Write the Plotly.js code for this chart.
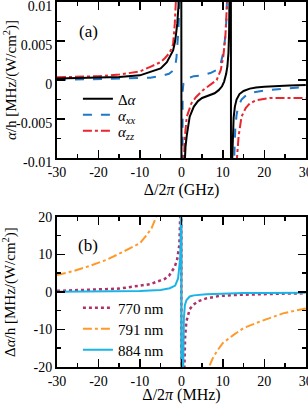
<!DOCTYPE html>
<html>
<head>
<meta charset="utf-8">
<script src="https://cdn.plot.ly/plotly-3.0.1.min.js"></script>
<style>html,body{margin:0;padding:0;background:#fff;}#chart{width:308px;height:404px;}</style>
</head>
<body>
<div id="chart"></div>
<script>
// ---------- Panel (a): detuning in GHz ----------
const aDeltaAlphaX = [-30,-25,-20,-15,-10,-7.5,-5,-3.5,-2.5,-2,-1.5,-1,-0.7,-0.5,-0.3,-0.1,0.1,0.5,0.8,1.0,1.3,1.6,2.0,3,4,5,6,7,8,9,9.8,10.3,10.8,11.1,11.35,11.5,11.65,11.8,11.9,12.0,12.1,12.2,12.4,12.6,12.9,13.3,14,15,16.5,18,20,23,26,30];
const aDeltaAlphaY = [0.0002,0.00025,0.0003,0.0004,0.0006,0.001,0.0015,0.0023,0.0032,0.0038,0.005,0.0072,0.0095,0.013,0.02,0.06,-0.06,-0.014,-0.0102,-0.0085,-0.0071,-0.006,-0.0047,-0.0034,-0.0027,-0.0023,-0.0021,-0.0019,-0.0017,-0.0013,-0.0008,-0.0002,0.0008,0.0018,0.0035,0.006,0.0095,0.02,0.06,-0.06,-0.02,-0.011,-0.0065,-0.0048,-0.0034,-0.0025,-0.0018,-0.0014,-0.0011,-0.00095,-0.00085,-0.00075,-0.0007,-0.00065];

const aAlphaXXX = [-30,-25,-20,-15,-10,-7.5,-5,-3,-2,-1.5,-1.2,-0.9,-0.7,-0.5,-0.3,-0.1,null,0.1,0.2,0.3,0.5,1.0,2,3,5,7,8.5,9.5,10.1,10.5,10.9,11.2,11.5,null,12.6,12.8,13.0,13.3,13.7,14.5,15.7,17,20.5,25,30];
const aAlphaXXY = [0.0,0.00005,0.0001,0.00015,0.0002,0.0003,0.0005,0.0008,0.0012,0.0018,0.0028,0.0045,0.0065,0.01,0.017,0.05,null,-0.05,-0.004,-0.0015,-0.0004,0.0001,0.0003,0.0005,0.0006,0.0009,0.0013,0.0022,0.0035,0.0052,0.008,0.012,0.025,null,-0.012,-0.0085,-0.0062,-0.0045,-0.0034,-0.0025,-0.0019,-0.0016,-0.0013,-0.0011,-0.0009];

const aAlphaZZX = [-30,-25,-20,-15,-10,-7.5,-5,-4,-3,-2.5,-2,-1.6,-1.3,-1.0,-0.7,-0.4,null,0.2,0.5,0.8,1.3,2.4,3.5,5.2,7,8.5,9.5,10.1,10.6,10.9,11.1,11.3,null,13.0,13.4,13.8,14.5,15.5,16.5,18,21.3,25,30];
const aAlphaZZY = [0.00035,0.0004,0.0005,0.0007,0.0011,0.0017,0.0023,0.0028,0.0034,0.0039,0.0046,0.0072,0.009,0.012,0.017,0.03,null,-0.03,-0.012,-0.0075,-0.0047,-0.003,-0.0022,-0.0013,-0.0006,0.0,0.0013,0.003,0.0055,0.0077,0.011,0.02,null,-0.02,-0.01,-0.0072,-0.0047,-0.0036,-0.003,-0.0026,-0.0023,-0.0023,-0.0023];

const aXTickVals = [-30,-20,-10,0,10,20,30];
const aXTickText = ['-30','-20','-10','0','10','20','30'];
const aYTickVals = [-0.01,-0.005,0,0.005,0.01];
const aYTickText = ['-0.01','-0.005','0','0.005','0.01'];
const aYMinor = [-0.0075,-0.0025,0.0025,0.0075];

// ---------- Panel (b): detuning in MHz ----------
const b770X = [-30,-25,-20,-15,-10,-7.5,-5,-4,-3,-2,-1.6,-1,-0.7,-0.5,-0.3,-0.15,-0.05,0.05,0.3,0.5,0.7,0.9,1.2,1.6,2,2.8,4,6,9,12.5,18,24,30];
const b770Y = [0.3,0.45,0.6,0.9,1.7,2.1,3.1,3.5,4.3,5.8,6.7,8.8,10.8,12.5,19.6,40,150,-150,-40,-27,-20,-12,-7.9,-5.8,-4.6,-3.5,-2.5,-1.7,-1.1,-0.8,-0.55,-0.45,-0.35];

const b791X = [-30,-26,-22,-18,-15,-12,-10,-8.5,-7.2,-6.2,-5,-3.5,-2,-1,-0.3,0.3,1,2,3.5,5,6.5,7.5,8.5,10,12.5,15,18.9,21.5,24.5,27,30];
const b791Y = [4.5,5.6,7.0,8.6,10.2,11.8,13,15,17,19.7,24,34,60,120,400,-400,-120,-62,-35,-25,-20.4,-17.8,-15.9,-13.6,-11.5,-9.6,-7.9,-6.8,-5.7,-5.1,-4.4];

const b884X = [-30,-20,-10,-7.6,-5,-2.8,-1.5,-0.8,-0.5,-0.3,-0.2,-0.1,-0.03,0.03,0.2,0.4,0.6,0.84,1.2,2,3,6,10,15,20,30];
const b884Y = [0.05,0.1,0.25,0.4,0.55,1.0,1.7,3.6,6,9,12.5,25,80,-80,-40,-20,-7,-3.5,-2.2,-1.2,-0.9,-0.6,-0.4,-0.3,-0.25,-0.2];

const bXTickVals = [-30,-20,-10,0,10,20,30];
const bXTickText = ['-30','-20','-10','0','10','20','30'];
const bYTickVals = [-20,-10,0,10,20];
const bYTickText = ['-20','-10','0','10','20'];
const bYMinor = [-15,-5,5,15];
const xMinor = [-25,-15,-5,5,15,25];

const FONT = 'Liberation Serif, DejaVu Serif, serif';

const traces = [
  {x:aAlphaXXX, y:aAlphaXXY, xaxis:'x', yaxis:'y', mode:'lines', name:'<i>α<sub>xx</sub></i>', legend:'legend2',
   line:{color:'#1f78c8', width:2, dash:'dash'}, connectgaps:false},
  {x:aAlphaZZX, y:aAlphaZZY, xaxis:'x', yaxis:'y', mode:'lines', name:'<i>α<sub>zz</sub></i>', legend:'legend3',
   line:{color:'#e8262e', width:2, dash:'dashdot'}, connectgaps:false},
  {x:aDeltaAlphaX, y:aDeltaAlphaY, xaxis:'x', yaxis:'y', mode:'lines', name:'Δ<i>α</i>', legend:'legend',
   line:{color:'#000000', width:2}},
  {x:b791X, y:b791Y, xaxis:'x2', yaxis:'y2', mode:'lines', name:'791 nm', legend:'legend5',
   line:{color:'#ff9a2a', width:2, dash:'dashdot'}},
  {x:b770X, y:b770Y, xaxis:'x2', yaxis:'y2', mode:'lines', name:'770 nm', legend:'legend4',
   line:{color:'#b0306a', width:2.5, dash:'dot'}},
  {x:b884X, y:b884Y, xaxis:'x2', yaxis:'y2', mode:'lines', name:'884 nm', legend:'legend6',
   line:{color:'#1ab4e6', width:2}}
];

function axisBase(extra){
  return Object.assign({
    showline:true, linewidth:2, linecolor:'#000', mirror:'ticks',
    ticks:'inside', ticklen:8, tickwidth:1.5, tickcolor:'#000',
    showgrid:false, zeroline:false, tickmode:'array', ticklabeloverflow:'allow',
    tickfont:{family:FONT, size:14, color:'#000'},
  }, extra);
}
function minorTicks(vals){
  return {tickmode:'array', tickvals:vals, ticks:'inside', ticklen:4, tickwidth:1.5, tickcolor:'#000'};
}
function leg(rowPix){
  return {x:0.084, y:(367-rowPix)/365, xanchor:'left', yanchor:'middle', bgcolor:'rgba(0,0,0,0)', borderwidth:0,
    font:{family:FONT, size:15, color:'#000'}, tracegroupgap:0, itemwidth:30};
}

const layout = {
  width:308, height:404,
  margin:{l:57, r:2, t:2, b:37},
  paper_bgcolor:'#fff', plot_bgcolor:'#fff',
  font:{family:FONT, color:'#000'},
  showlegend:true,
  xaxis: axisBase({domain:[0,1], anchor:'y', range:[-30,30.05], tickvals:aXTickVals, ticktext:aXTickText,
    minor:minorTicks(xMinor),
    title:{text:'Δ/2<i>π</i> (GHz)', font:{family:FONT, size:16}, standoff:5}}),
  yaxis: axisBase({domain:[0.5726,1], anchor:'x', range:[-0.01,0.01001], tickvals:aYTickVals, ticktext:aYTickText,
    ticklabelshift:4, minor:minorTicks(aYMinor)}),
  xaxis2: axisBase({domain:[0,1], anchor:'y2', range:[-30,30.05], tickvals:bXTickVals, ticktext:bXTickText,
    minor:minorTicks(xMinor),
    title:{text:'Δ/2<i>π</i> (MHz)', font:{family:FONT, size:16}, standoff:5}}),
  yaxis2: axisBase({domain:[0,0.411], anchor:'x2', range:[-20,20], tickvals:bYTickVals, ticktext:bYTickText,
    minor:minorTicks(bYMinor)}),
  legend: leg(99),
  legend2: leg(115),
  legend3: leg(131),
  legend4: leg(308),
  legend5: leg(329),
  legend6: leg(350),
  annotations:[
    {text:'(a)', xref:'x', yref:'y', x:-22.5, y:0.0062, showarrow:false, font:{family:FONT, size:17}},
    {text:'(b)', xref:'x2', yref:'y2', x:-22.5, y:12.5, showarrow:false, font:{family:FONT, size:17}},
    {text:'<i>α</i>/h [MHz/(W/cm<sup>2</sup>)]', xref:'paper', yref:'paper', x:-0.1888, y:0.786,
     xanchor:'center', yanchor:'middle', textangle:-90, showarrow:false, font:{family:FONT, size:15}},
    {text:'Δ<i>α</i>/h [MHz/(W/cm<sup>2</sup>)]', xref:'paper', yref:'paper', x:-0.1888, y:0.2055,
     xanchor:'center', yanchor:'middle', textangle:-90, showarrow:false, font:{family:FONT, size:15}}
  ]
};

Plotly.newPlot('chart', traces, layout, {displayModeBar:false, staticPlot:true});
</script>
</body>
</html>
